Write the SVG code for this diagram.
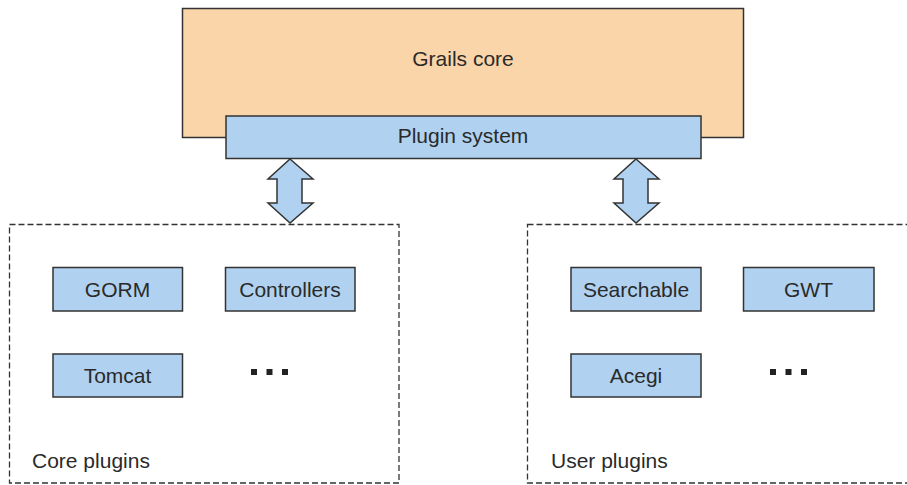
<svg xmlns="http://www.w3.org/2000/svg" width="907" height="485" viewBox="0 0 907 485">
<style>
.box{fill:#B0D2F0;stroke:#333;stroke-width:1.5}
.core{fill:#FAD5A9;stroke:#333;stroke-width:1.5}
.grp{fill:none;stroke:#333;stroke-width:1.3;stroke-dasharray:6 3}
.arr{fill:#B0D2F0;stroke:#333;stroke-width:1.5;stroke-linejoin:miter}
text{font-family:"Liberation Sans",Arial,sans-serif;font-size:21px;fill:#2a2a2a}
.c{text-anchor:middle}
.dot{fill:#222}
</style>
<rect width="907" height="485" fill="#fff"/>
<g id="core-plugins-group">
<rect class="grp" x="9.5" y="224.5" width="389.5" height="258.5"/>
<text x="32" y="468">Core plugins</text>
</g>
<g id="user-plugins-group">
<rect class="grp" x="527.5" y="224.5" width="400" height="258.5"/>
<text x="551" y="468">User plugins</text>
</g>
<g id="grails-core">
<rect class="core" x="182.5" y="8.5" width="561" height="129"/>
<text class="c" x="463" y="66">Grails core</text>
</g>
<g id="connectors">
<polygon class="arr" points="290,159 313,179 302,179 302,203 313,203 290,223 268,203 277,203 277,179 268,179"/>
<polygon class="arr" points="636,159 659,179 648,179 648,203 659,203 636,223 614,203 623,203 623,179 614,179"/>
</g>
<g id="plugin-system">
<rect class="box" x="226" y="116" width="475" height="42.5"/>
<text class="c" x="463" y="143">Plugin system</text>
</g>
<g id="gorm">
<rect class="box" x="53" y="267.5" width="129.5" height="43.5"/>
<text class="c" x="117.5" y="297">GORM</text>
</g>
<g id="controllers">
<rect class="box" x="225.5" y="267.5" width="129.5" height="43.5"/>
<text class="c" x="290" y="297">Controllers</text>
</g>
<g id="tomcat">
<rect class="box" x="53" y="354" width="129.5" height="43"/>
<text class="c" x="117.5" y="383">Tomcat</text>
</g>
<g id="core-more">
<rect class="dot" x="251" y="369" width="6" height="6"/>
<rect class="dot" x="266.5" y="369" width="6" height="6"/>
<rect class="dot" x="282" y="369" width="6" height="6"/>
</g>
<g id="searchable">
<rect class="box" x="571" y="267.5" width="130" height="43.5"/>
<text class="c" x="636" y="297">Searchable</text>
</g>
<g id="gwt">
<rect class="box" x="743.5" y="267.5" width="130.5" height="43.5"/>
<text class="c" x="808.5" y="297">GWT</text>
</g>
<g id="acegi">
<rect class="box" x="571" y="354" width="130" height="43"/>
<text class="c" x="636" y="383">Acegi</text>
</g>
<g id="user-more">
<rect class="dot" x="770" y="369" width="6" height="6"/>
<rect class="dot" x="785.5" y="369" width="6" height="6"/>
<rect class="dot" x="801" y="369" width="6" height="6"/>
</g>
</svg>
